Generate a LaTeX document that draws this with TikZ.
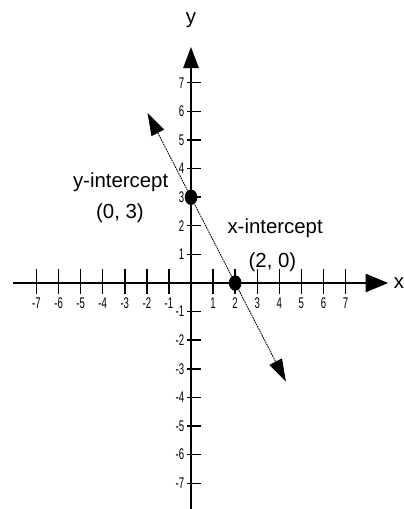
\documentclass[tikz,border=0pt]{standalone}
\usepackage{fontspec}
\setmainfont{Liberation Sans}
\usepackage{graphicx}
\usepackage{tikz}
\usetikzlibrary{arrows.meta,shapes.geometric}

\newcommand{\ticknum}[1]{\scalebox{0.62}[1]{#1}}

\begin{document}
\begin{tikzpicture}[
      x=0.5518cm, y=0.715cm,
      every node/.style={font=\fontsize{14.5}{17}\selectfont},
      xaxis/.style={line width=1.1pt,-{Triangle[length=16pt,width=13pt]}},
      yaxis/.style={line width=1.1pt,-{Triangle[length=15pt,width=11pt]}},
      tickmark/.style={line width=1pt},
      ticklabel/.style={font=\fontsize{11}{13}\selectfont,inner sep=0pt},
      graphline/.style={line width=0.6pt,dash pattern=on 1.2pt off 0.6pt,
        {Triangle[length=16pt,width=10pt]}-{Triangle[length=16pt,width=10pt]}},
      dot/.style={draw,ellipse,fill=black,inner sep=0pt,minimum width=0.3cm,minimum height=0.37cm}
  ]
    \useasboundingbox (-8.654,-7.902) rectangle (9.606,9.895);

    % axes
    \coordinate (xmin) at (-8.07,0);
    \coordinate (xmax) at (8.93,0);
    \coordinate (ymin) at (0,-7.95);
    \coordinate (ymax) at (0,8.25);
    \draw[xaxis] (xmin) -- (xmax);
    \draw[yaxis] (ymin) -- (ymax);
    \node[anchor=west,inner sep=0pt] (xname) at (9.18,0) {x};
    \node[inner sep=0pt] (yname) at (0,9.2) {y};

    % ticks and numbers
    \foreach \i in {-7,-6,-5,-4,-3,-2,-1,1,2,3,4,5,6,7} {
      \draw[tickmark] (\i,0) ++(0,0.35cm) -- ++(0,-0.625cm);
      \draw[tickmark] (0,\i) ++(-0.1cm,0) -- ++(0.35cm,0);
      \node[ticklabel] (xl\i) at (\i,-0.72) {\ticknum{\i}};
      \node[ticklabel,anchor=east] (yl\i) at (-0.3,\i) {\ticknum{\i}};
    }

    % the line and its intercepts
    \node[dot] (yint) at (0,3) {};
    \node[dot] (xint) at (2,0) {};
    \coordinate (ltop) at (-1.97,5.95);
    \coordinate (lbot) at (4.30,-3.45);
    \draw[graphline] (ltop) -- (lbot);

    \node (ylab) at (-3.19,3.53) {y-intercept};
    \node (ycoord) at (-3.22,2.45) {(0, 3)};
    \node (xlab) at (3.81,1.91) {x-intercept};
    \node (xcoord) at (3.69,0.72) {(2, 0)};
  \end{tikzpicture}
\end{document}
